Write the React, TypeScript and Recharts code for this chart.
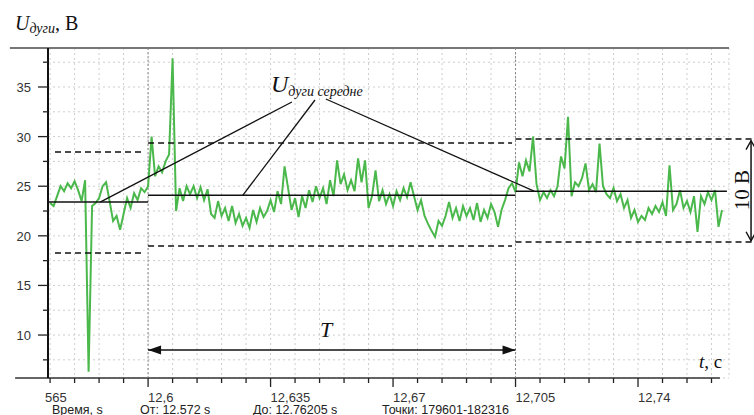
import { ComposedChart, Line, XAxis, YAxis, CartesianGrid, ReferenceLine } from 'recharts';

// arc voltage samples, 1 ms apart, starting at 12.572 s
const T0 = 12.572;
const DT = 0.001;
const volts = [
  23.3, 23.0, 24.0, 25.0, 24.5, 25.3, 24.8, 25.5, 24.6, 23.5,
  25.6, 6.3, 23.0, 23.3, 23.8, 25.0, 25.4, 23.5, 21.5, 22.0,
  20.6, 22.2, 23.8, 22.8, 24.3, 23.6, 24.8, 24.4, 25.0, 30.0,
  26.0, 27.0, 26.4, 27.5, 28.2, 37.9, 22.5, 24.8, 23.5, 25.0,
  24.2, 25.0, 23.8, 24.9, 23.6, 24.7, 22.2, 21.8, 23.5, 22.0,
  22.8, 21.5, 23.0, 21.3, 22.2, 21.0, 21.8, 20.8, 22.6, 21.4,
  22.8, 21.9, 22.5, 23.6, 22.4, 24.5, 23.2, 27.0, 24.8, 22.6,
  23.8, 21.9, 24.0, 22.8, 24.6, 23.4, 25.0, 23.8, 24.8, 23.2,
  25.6, 24.0, 27.6, 25.2, 26.2, 24.6, 25.6, 24.5, 27.8, 25.4,
  27.6, 22.8, 24.0, 26.6, 23.5, 24.6, 23.2, 24.2, 23.0, 24.5,
  23.6, 24.8, 23.9, 25.4, 24.0, 22.6, 23.6, 22.0, 21.2, 20.5,
  19.9, 21.5, 21.0, 22.0, 23.4, 21.8, 22.8, 21.5, 23.0, 22.0,
  22.8, 21.6, 23.3, 21.4, 22.6, 21.8, 23.2, 22.4, 20.9, 22.6,
  23.6, 24.8, 25.3, 24.4, 27.4, 26.0, 27.6, 26.5, 30.0, 25.2,
  23.6, 24.4, 23.8, 24.6, 24.0, 25.0, 28.0, 26.8, 32.0, 24.0,
  25.4, 25.0, 25.8, 27.3, 24.6, 25.2, 24.4, 29.3, 25.0, 24.2,
  23.8, 24.8, 23.5, 24.2, 22.8, 23.6, 21.8, 22.6, 21.4, 22.0,
  21.6, 22.8, 22.2, 23.0, 22.4, 23.4, 22.0, 27.1, 22.6, 23.2,
  24.6, 22.8, 23.5, 22.4, 24.0, 20.4, 24.0, 23.2, 24.4, 23.6,
  24.6, 20.9, 22.6,
];

const xTicks = [
  12.572, 12.579, 12.586, 12.593, 12.6, 12.607, 12.614, 12.621, 12.628, 12.635,
  12.642, 12.649, 12.656, 12.663, 12.67, 12.677, 12.684, 12.691, 12.698, 12.705,
  12.712, 12.719, 12.726, 12.733, 12.74, 12.747, 12.754, 12.761,
];
const xLabels: Record<string, string> = {
  '12.6': '12,6',
  '12.635': '12,635',
  '12.67': '12,67',
  '12.705': '12,705',
  '12.74': '12,74',
};
const yTicks = [7.5, 10, 12.5, 15, 17.5, 20, 22.5, 25, 27.5, 30, 32.5, 35, 37.5];

// period boundaries and levels (mean, +-5 V)
const periodEdges = [12.5714, 12.6, 12.705, 12.7654];
const meanLevels = [23.4, 24.1, 24.5];
const upperLevels = [28.45, 29.35, 29.76];
const lowerLevels = [18.27, 18.97, 19.37];
const dashSpans = [
  [12.5734, 12.5985],
  [12.6, 12.704],
  [12.705, 12.7731],
];

const X_MIN = 12.5714;
const X_MAX = 12.766;
const Y_MIN = 5.67;
const Y_MAX = 38.93;

const data = volts.map((u, i) => ({ t: +(T0 + i * DT).toFixed(3), u }));

const tickFont = '"Liberation Sans", Arial, sans-serif';
const mathFont = '"Liberation Serif", "Times New Roman", serif';

function XTick(props: any) {
  const { x, y, payload } = props;
  const label = xLabels[String(+payload.value.toFixed(3))];
  return (
    <g>
      <line x1={x} y1={y} x2={x} y2={y + (label ? 9 : 5)} stroke="#222" strokeWidth={1.3} />
      {label && (
        <text x={x} y={y + 24} fontSize={13} fontFamily={tickFont} fill="#333">
          {label}
        </text>
      )}
    </g>
  );
}

function YTick(props: any) {
  const { x, y, payload } = props;
  const major = payload.value % 5 === 0;
  return (
    <g>
      <line x1={x - (major ? 10 : 5)} y1={y} x2={x} y2={y} stroke="#222" strokeWidth={1.3} />
      {major && (
        <text x={x - 17} y={y + 5} textAnchor="end" fontSize={13} fontFamily={tickFont} fill="#333">
          {payload.value}
        </text>
      )}
    </g>
  );
}

function arrowShape(open: boolean) {
  return (p: any) => {
    const { x1, y1, x2, y2 } = p;
    const a = Math.atan2(y2 - y1, x2 - x1);
    const len = open ? 9 : 13;
    const w = open ? 5 : 4.5;
    const head = (px: number, py: number, dir: number) => {
      const bx = px - Math.cos(a) * len * dir;
      const by = py - Math.sin(a) * len * dir;
      const nx = -Math.sin(a) * w;
      const ny = Math.cos(a) * w;
      if (open) {
        return (
          <polyline
            points={`${bx + nx},${by + ny} ${px},${py} ${bx - nx},${by - ny}`}
            fill="none"
            stroke="#111"
            strokeWidth={1.4}
          />
        );
      }
      return <polygon points={`${px},${py} ${bx + nx},${by + ny} ${bx - nx},${by - ny}`} fill="#111" />;
    };
    return (
      <g>
        <line x1={x1} y1={y1} x2={x2} y2={y2} stroke="#111" strokeWidth={1.5} />
        {head(x1, y1, -1)}
        {head(x2, y2, 1)}
      </g>
    );
  };
}

export default function App() {
  return (
    <div style={{ position: 'absolute', left: 0, top: 0, width: 754, height: 415, background: '#fff' }}>
      <ComposedChart
        width={754}
        height={415}
        data={data}
        margin={{ top: 48, right: 25, bottom: 0, left: 0 }}
      >
        <CartesianGrid strokeDasharray="2 3" stroke="#cdcdcd" />
        <XAxis
          type="number"
          dataKey="t"
          domain={[X_MIN, X_MAX]}
          ticks={xTicks}
          interval={0}
          allowDataOverflow
          height={37}
          tickSize={0}
          tickMargin={0}
          tickLine={false}
          axisLine={false}
          tick={<XTick />}
        />
        <YAxis
          type="number"
          domain={[Y_MIN, Y_MAX]}
          ticks={yTicks}
          interval={0}
          allowDataOverflow
          width={48}
          tickSize={0}
          tickMargin={0}
          tickLine={false}
          axisLine={{ stroke: '#111', strokeWidth: 2 }}
          tick={<YTick />}
        />
        {/* frame lines */}
        <ReferenceLine
          segment={[{ x: 12.5605, y: Y_MAX }, { x: X_MAX, y: Y_MAX }]}
          stroke="#777"
          strokeWidth={2}
          ifOverflow="visible"
        />
        <ReferenceLine
          segment={[{ x: 12.562, y: Y_MIN }, { x: 12.7634, y: Y_MIN }]}
          stroke="#333"
          strokeWidth={1.6}
          ifOverflow="visible"
        />
        <ReferenceLine x={12.6} stroke="#888" strokeDasharray="2 2" />
        <ReferenceLine x={12.705} stroke="#888" strokeDasharray="2 2" />

        <Line
          type="linear"
          dataKey="u"
          stroke="#4bb84c"
          strokeWidth={2}
          dot={false}
          isAnimationActive={false}
        />

        {meanLevels.map((m, i) => (
          <ReferenceLine
            key={`m${i}`}
            segment={[{ x: periodEdges[i], y: m }, { x: periodEdges[i + 1], y: m }]}
            stroke="#111"
            strokeWidth={1.5}
            ifOverflow="visible"
          />
        ))}
        {upperLevels.map((v, i) => (
          <ReferenceLine
            key={`u${i}`}
            segment={[{ x: dashSpans[i][0], y: v }, { x: dashSpans[i][1], y: v }]}
            stroke="#111"
            strokeWidth={1.5}
            strokeDasharray="6 4"
            ifOverflow="visible"
          />
        ))}
        {lowerLevels.map((v, i) => (
          <ReferenceLine
            key={`l${i}`}
            segment={[{ x: dashSpans[i][0], y: v }, { x: dashSpans[i][1], y: v }]}
            stroke="#111"
            strokeWidth={1.5}
            strokeDasharray="6 4"
            ifOverflow="visible"
          />
        ))}

        {/* leader lines from the "U дуги середне" label */}
        <ReferenceLine
          segment={[{ x: 12.6411, y: 33.49 }, { x: 12.5863, y: 23.4 }]}
          stroke="#111"
          strokeWidth={1.3}
          ifOverflow="visible"
        />
        <ReferenceLine
          segment={[{ x: 12.6477, y: 33.69 }, { x: 12.6271, y: 24.1 }]}
          stroke="#111"
          strokeWidth={1.3}
          ifOverflow="visible"
        />
        <ReferenceLine
          segment={[{ x: 12.6508, y: 33.79 }, { x: 12.7103, y: 24.5 }]}
          stroke="#111"
          strokeWidth={1.3}
          ifOverflow="visible"
        />

        {/* period T */}
        <ReferenceLine
          segment={[{ x: 12.6, y: 8.49 }, { x: 12.705, y: 8.49 }]}
          ifOverflow="visible"
          shape={arrowShape(false)}
        />
        {/* 10 V span */}
        <ReferenceLine
          segment={[{ x: 12.7723, y: 29.6 }, { x: 12.7723, y: 19.5 }]}
          ifOverflow="visible"
          shape={arrowShape(true)}
        />
      </ComposedChart>

      <svg
        width={754}
        height={415}
        style={{ position: 'absolute', left: 0, top: 0, pointerEvents: 'none' }}
      >
        <text x={15} y={30} fontFamily={mathFont} fontSize={20} fill="#111">
          <tspan fontStyle="italic">U</tspan>
          <tspan fontStyle="italic" fontSize={14} dy={3}>дуги</tspan>
          <tspan dy={-3}>, В</tspan>
        </text>
        <text x={271} y={92} fontFamily={mathFont} fontSize={24} fill="#111">
          <tspan fontStyle="italic">U</tspan>
          <tspan fontStyle="italic" fontSize={14} dy={4}>дуги середне</tspan>
        </text>
        <text x={320} y={337} fontFamily={mathFont} fontSize={22} fontStyle="italic" fill="#111">
          T
        </text>
        <text x={699} y={368} fontFamily={mathFont} fontSize={19} fill="#111">
          <tspan fontStyle="italic">t</tspan>
          <tspan>, с</tspan>
        </text>
        <text
          x={749}
          y={190}
          transform="rotate(-90 749 190)"
          textAnchor="middle"
          fontFamily={mathFont}
          fontSize={21}
          fill="#111"
        >
          10 В
        </text>
        <text x={45} y={402} fontSize={13} fontFamily={tickFont} fill="#333">
          565
        </text>
        <text fontSize={12.5} fontFamily={tickFont} fill="#222" y={414}>
          <tspan x={52}>Время, s</tspan>
          <tspan x={140}>От: 12.572 s</tspan>
          <tspan x={253}>До: 12.76205 s</tspan>
          <tspan x={382}>Точки: 179601-182316</tspan>
        </text>
      </svg>
    </div>
  );
}
